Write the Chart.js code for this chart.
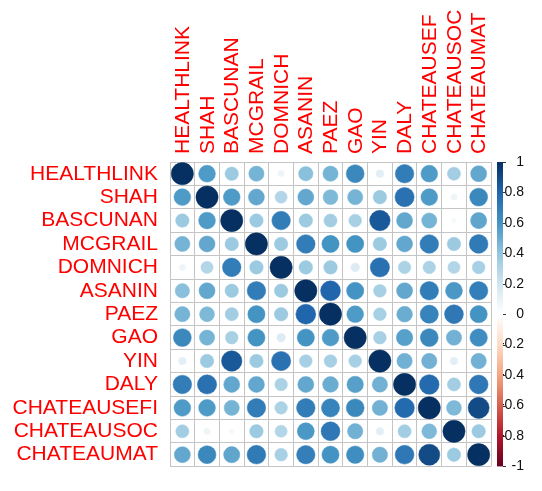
<!DOCTYPE html>
<html>
<head>
<meta charset="utf-8">
<script src="https://cdn.jsdelivr.net/npm/chart.js@4"></script>
<style>
  body { margin: 0; background: #fff; }
  #wrap { width: 542px; height: 491px; }
</style>
</head>
<body>
<div id="wrap"><canvas id="corrChart"></canvas></div>
<script>
const rowLabels = ['HEALTHLINK', 'SHAH', 'BASCUNAN', 'MCGRAIL', 'DOMNICH', 'ASANIN', 'PAEZ', 'GAO', 'YIN', 'DALY', 'CHATEAUSEFI', 'CHATEAUSOC', 'CHATEAUMAT'];
const colLabels = ['HEALTHLINK', 'SHAH', 'BASCUNAN', 'MCGRAIL', 'DOMNICH', 'ASANIN', 'PAEZ', 'GAO', 'YIN', 'DALY', 'CHATEAUSEF', 'CHATEAUSOC', 'CHATEAUMAT'];

// correlation matrix, one row per variable
const healthlink  = [1.00, 0.57, 0.37, 0.47, 0.08, 0.42, 0.47, 0.65, 0.12, 0.70, 0.57, 0.35, 0.52];
const shah        = [0.57, 1.00, 0.57, 0.52, 0.30, 0.52, 0.45, 0.47, 0.37, 0.75, 0.57, 0.08, 0.65];
const bascunan    = [0.37, 0.57, 1.00, 0.37, 0.70, 0.37, 0.35, 0.33, 0.85, 0.52, 0.47, 0.05, 0.53];
const mcgrail     = [0.47, 0.52, 0.37, 1.00, 0.37, 0.70, 0.60, 0.60, 0.37, 0.52, 0.70, 0.37, 0.71];
const domnich     = [0.08, 0.30, 0.70, 0.37, 1.00, 0.37, 0.37, 0.15, 0.75, 0.32, 0.32, 0.30, 0.33];
const asanin      = [0.42, 0.52, 0.37, 0.70, 0.37, 1.00, 0.80, 0.60, 0.33, 0.52, 0.70, 0.58, 0.69];
const paez        = [0.47, 0.45, 0.35, 0.60, 0.37, 0.80, 1.00, 0.57, 0.33, 0.50, 0.67, 0.72, 0.60];
const gao         = [0.65, 0.47, 0.33, 0.60, 0.15, 0.60, 0.57, 1.00, 0.33, 0.55, 0.65, 0.48, 0.62];
const yin         = [0.12, 0.37, 0.85, 0.37, 0.75, 0.33, 0.33, 0.33, 1.00, 0.48, 0.48, 0.12, 0.48];
const daly        = [0.70, 0.75, 0.52, 0.52, 0.32, 0.52, 0.50, 0.55, 0.48, 1.00, 0.78, 0.35, 0.72];
const chateausefi = [0.57, 0.57, 0.47, 0.70, 0.32, 0.70, 0.67, 0.65, 0.48, 0.78, 1.00, 0.45, 0.90];
const chateausoc  = [0.35, 0.08, 0.05, 0.37, 0.30, 0.58, 0.72, 0.48, 0.12, 0.35, 0.45, 1.00, 0.37];
const chateaumat  = [0.52, 0.65, 0.53, 0.71, 0.33, 0.69, 0.60, 0.62, 0.48, 0.72, 0.90, 0.37, 1.00];
const matrix = [healthlink, shah, bascunan, mcgrail, domnich, asanin, paez, gao, yin, daly, chateausefi, chateausoc, chateaumat];

const colorbarTicks = [-1, -0.8, -0.6, -0.4, -0.2, 0, 0.2, 0.4, 0.6, 0.8, 1];

// RdBu palette from -1 to 1
const palette = ['#67001F', '#B2182B', '#D6604D', '#F4A582', '#FDDBC7', '#FFFFFF', '#D1E5F0', '#92C5DE', '#4393C3', '#2166AC', '#053061'];

function hexToRgb(h) {
    return [parseInt(h.slice(1, 3), 16), parseInt(h.slice(3, 5), 16), parseInt(h.slice(5, 7), 16)];
}

function corrColor(v) {
    const pos = (v + 1) / 2 * (palette.length - 1);
    const i = Math.min(Math.floor(pos), palette.length - 2);
    const t = pos - i;
    const a = hexToRgb(palette[i]);
    const b = hexToRgb(palette[i + 1]);
    const c = a.map((x, k) => Math.round(x + (b[k] - x) * t));
    return 'rgb(' + c.join(',') + ')';
}

let points = [];
for (let r = 0; r < rowLabels.length; r++) {
    for (let c = 0; c < colLabels.length; c++) {
        points.push({ x: colLabels[c], y: rowLabels[r], v: matrix[r][c] });
    }
}

const colorbarPlugin = {
    id: 'colorbar',
    afterDraw(chart) {
        const ctx = chart.ctx;
        const s = chart.scales.cb;
        const area = chart.chartArea;
        const x0 = area.right + 6;
        const w = 6;
        const top = s.getPixelForValue(1);
        const bottom = s.getPixelForValue(-1);
        const grad = ctx.createLinearGradient(0, bottom, 0, top);
        palette.forEach((col, i) => grad.addColorStop(i / (palette.length - 1), col));
        ctx.save();
        ctx.fillStyle = grad;
        ctx.fillRect(x0, top, w, bottom - top);
        ctx.strokeStyle = '#333';
        ctx.lineWidth = 1;
        colorbarTicks.forEach(t => {
            const y = Math.round(s.getPixelForValue(t)) + 0.5;
            ctx.beginPath();
            ctx.moveTo(x0 + w, y);
            ctx.lineTo(x0 + w + 3, y);
            ctx.stroke();
        });
        ctx.restore();
    }
};

const labelFont = { family: 'Liberation Sans, Arial, sans-serif', size: 21 };

function cellSize(chart) {
    const s = chart.scales.x;
    if (s && s.width) return s.width / colLabels.length;
    return 24.7;
}

new Chart(document.getElementById('corrChart'), {
    type: 'bubble',
    data: {
        datasets: [{
            data: points,
            borderWidth: 0.5,
            backgroundColor: ctx => ctx.raw ? corrColor(ctx.raw.v) : '#fff',
            borderColor: ctx => ctx.raw ? corrColor(ctx.raw.v) : '#fff',
            radius: ctx => ctx.raw ? 0.45 * Math.sqrt(Math.abs(ctx.raw.v)) * cellSize(ctx.chart) : 0,
            hoverRadius: 0
        }]
    },
    options: {
        responsive: true,
        maintainAspectRatio: false,
        animation: false,
        layout: { padding: { bottom: 9, right: 18 } },
        plugins: {
            legend: { display: false },
            tooltip: { enabled: false }
        },
        scales: {
            x: {
                type: 'category',
                labels: colLabels,
                position: 'top',
                offset: true,
                grid: { offset: true, color: '#c4c4c4', drawTicks: false },
                border: { color: '#c4c4c4' },
                ticks: {
                    color: '#FF0000',
                    font: labelFont,
                    minRotation: 90,
                    maxRotation: 90,
                    autoSkip: false,
                    padding: 8,
                    labelOffset: 26
                },
                afterFit: s => { s.height = 162; }
            },
            y: {
                type: 'category',
                labels: rowLabels,
                position: 'left',
                offset: true,
                grid: { offset: true, color: '#c4c4c4', drawTicks: false },
                border: { color: '#c4c4c4' },
                ticks: {
                    color: '#FF0000',
                    font: labelFont,
                    autoSkip: false,
                    padding: 12
                },
                afterFit: s => { s.width = 170; }
            },
            cb: {
                type: 'linear',
                axis: 'y',
                position: 'right',
                min: -1,
                max: 1,
                grid: { display: false, drawTicks: false },
                border: { display: false },
                afterBuildTicks: s => { s.ticks = colorbarTicks.map(v => ({ value: v })); },
                ticks: {
                    color: '#111',
                    font: { family: 'Liberation Sans, Arial, sans-serif', size: 14 },
                    crossAlign: 'far',
                    padding: 8,
                    callback: v => String(Math.round(v * 10) / 10)
                },
                afterFit: s => { s.width = 33; }
            }
        }
    },
    plugins: [colorbarPlugin]
});
</script>
</body>
</html>
